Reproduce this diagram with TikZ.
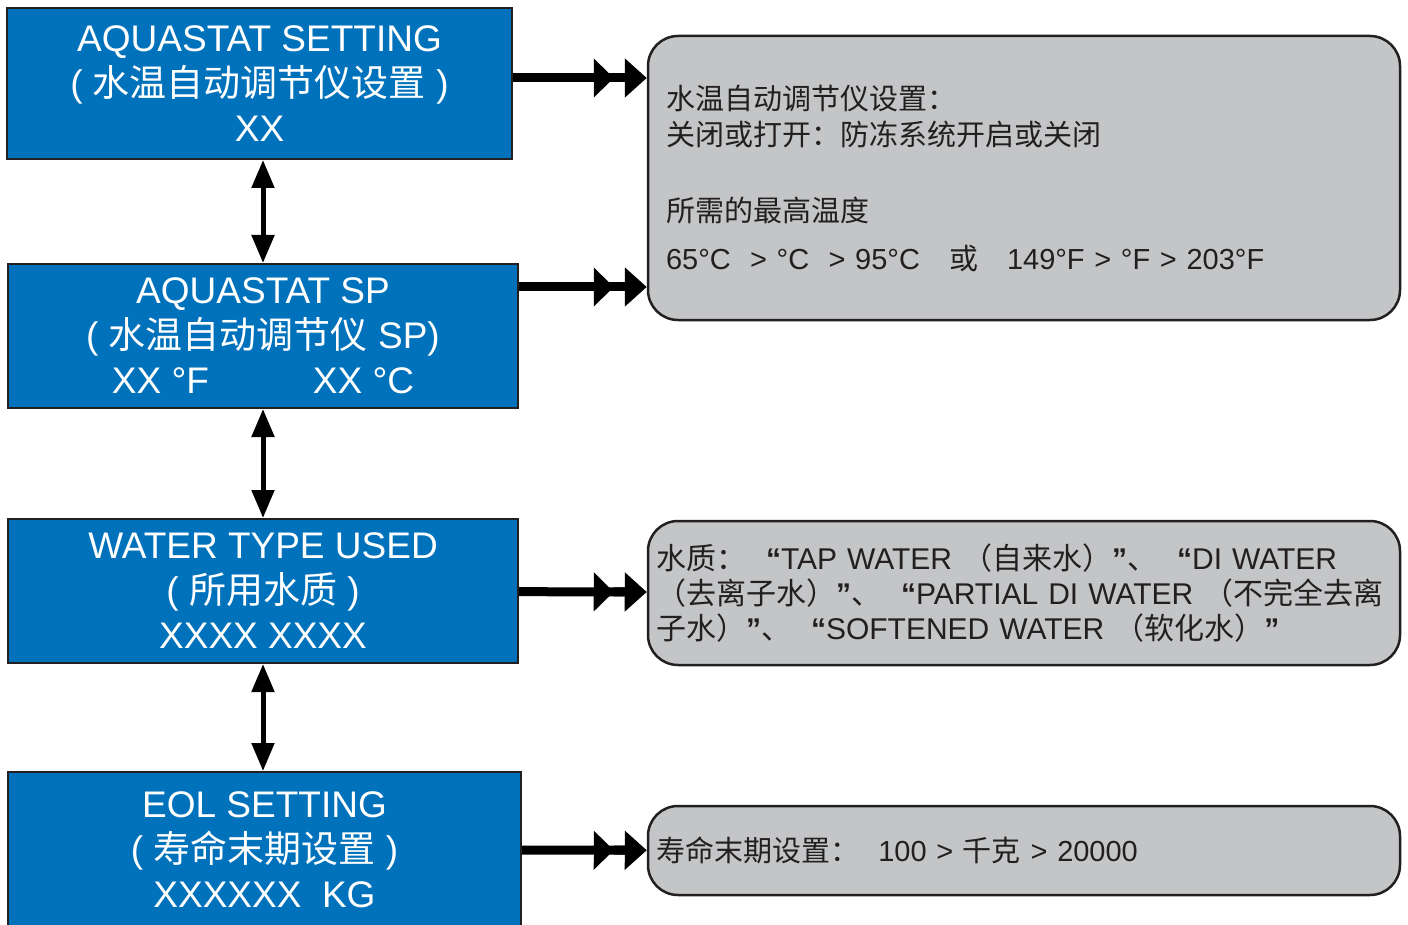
\documentclass[tikz,border=0pt]{standalone}
\usepackage{fontspec}
\usepackage{xcolor}
\usepackage{tikz}
\usetikzlibrary{arrows.meta,positioning,calc}
\setmainfont{Liberation Sans}
\newfontfamily\cjkfont{Noto Sans CJK SC}
\newcommand{\zh}[1]{{\cjkfont #1}}
\newcommand{\oq}{\textbf{“}}
\newcommand{\cq}{\textbf{”}}
\definecolor{menuBlue}{HTML}{0072BC}
\definecolor{menuGray}{HTML}{C4C5C7}
\definecolor{menuInk}{HTML}{231F20}

\begin{document}
\begin{tikzpicture}[
  x=.5pt,y=-.5pt,
  menu/.style={draw=menuInk,line width=1pt,fill=menuBlue,text=white,align=center,
    inner sep=0pt,font=\fontsize{18.5}{22.5}\selectfont},
  info/.style={draw=menuInk,line width=1.25pt,fill=menuGray,rounded corners=15pt,
    text=menuInk,align=left,minimum width=376pt,inner ysep=0pt},
  link/.style={line width=4.5pt,-{Triangle[length=10pt,width=19pt,sep=0pt]
    Rectangle[length=5.5pt,width=4.5pt,sep=0pt]Triangle[length=11pt,width=19pt,sep=0pt]}},
  nav/.style={line width=2.5pt,{Triangle[length=14pt,width=11pt]}-{Triangle[length=14pt,width=11pt]}}
]
  \useasboundingbox (0,0) rectangle (1408,925);
  % menu screens
  \node[menu,minimum width=252.5pt,minimum height=75.5pt] (aqset) at (259.5,83.5)
    {AQUASTAT SETTING\\( \zh{水温自动调节仪设置} )\\XX};
  \node[menu,minimum width=255pt,minimum height=72pt] (aqsp) at (263,336)
    {AQUASTAT SP\\( \zh{水温自动调节仪} SP)\\XX °F\hspace{52pt}XX °C};
  \node[menu,minimum width=255pt,minimum height=72pt] (wtype) at (263,591)
    {WATER TYPE USED\\( \zh{所用水质} )\\XXXX XXXX};
  \node[menu,minimum width=256.5pt,minimum height=78pt] (eol) at (264.5,850)
    {EOL SETTING\\( \zh{寿命末期设置} )\\XXXXXX\ \ KG};
  % explanations
  \node[info,minimum height=142pt,inner xsep=9pt,text width=358pt,
    font=\fontsize{14.5}{18}\selectfont] (aqinfo) at (1024,178)
    {\zh{水温自动调节仪设置：}\\
     \zh{关闭或打开：防冻系统开启或关闭}\\[20pt]
     \zh{所需的最高温度}\\[6pt]
     65°C\ \ >\ °C\ \ >\ 95°C\quad\zh{或}\quad 149°F > °F > 203°F};
  \node[info,minimum height=72pt,inner xsep=4pt,text width=368pt,
    font=\fontsize{15}{17.5}\selectfont] (wtinfo) at (1024,593)
    {\zh{水质：}\ \ \oq TAP WATER \zh{（自来水）}\cq\zh{、}\ \ \oq DI WATER\\
     \zh{（去离子水）}\cq\zh{、}\ \ \oq PARTIAL DI WATER \zh{（不完全去离}\\
     \zh{子水）}\cq\zh{、}\ \ \oq SOFTENED WATER \zh{（软化水）}\cq};
  \node[info,minimum height=44.5pt,inner xsep=4pt,text width=368pt,
    font=\fontsize{14.5}{17.5}\selectfont] (eolinfo) at (1024,850.5)
    {\zh{寿命末期设置：}\ \ 100 > \zh{千克} > 20000};
  % connectors
  \coordinate (l1) at ([yshift=2.75pt]aqset.east);
  \coordinate (l2) at ([yshift=-12pt]aqsp.north east);
  \draw[link] (l1) -- (l1 -| aqinfo.west);
  \draw[link] (l2) -- (l2 -| aqinfo.west);
  \draw[link] (wtype) -- (wtinfo);
  \draw[link] (eol) -- (eolinfo);
  \draw[nav] (aqset.south -| aqsp.north) -- (aqsp.north);
  \draw[nav] (aqsp) -- (wtype);
  \draw[nav] (wtype.south) -- (wtype.south |- eol.north);
\end{tikzpicture}
\end{document}
